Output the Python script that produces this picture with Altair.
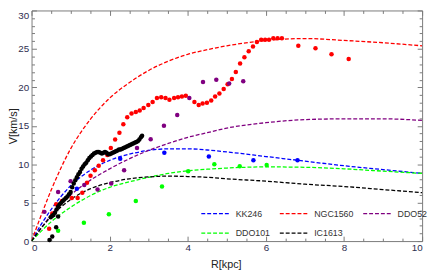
import altair as alt
import pandas as pd

series_names = ["KK246", "NGC1560", "DDO52", "DDO101", "IC1613"]
series_colors = ["#0000ff", "#ff0000", "#800080", "#00ff00", "#000000"]

# fitted rotation curves (dashed), read at these radii
curve_r = [0, 0.25, 0.5, 1, 1.5, 2, 2.5, 3, 3.5, 4, 4.5, 5, 6, 7, 8, 9, 10]
curve_kk246 = [0, 2.2, 4.1, 7.2, 9.2, 10.5, 11.3, 11.8, 12.0, 12.0, 11.85, 11.6, 11.0, 10.4, 9.8, 9.3, 8.8]
curve_ngc1560 = [0, 3.4, 6.6, 12.0, 15.8, 18.6, 20.6, 22.2, 23.4, 24.3, 24.9, 25.4, 26.1, 26.35, 26.1, 25.8, 25.4]
curve_ddo52 = [0, 1.7, 3.4, 6.0, 7.9, 9.4, 10.7, 11.8, 12.7, 13.5, 14.1, 14.7, 15.4, 15.8, 15.9, 15.9, 15.7]
curve_ddo101 = [0, 1.3, 2.5, 4.4, 5.9, 7.0, 7.7, 8.3, 8.8, 9.15, 9.35, 9.5, 9.65, 9.6, 9.4, 9.1, 8.8]
curve_ic1613 = [0, 1.7, 3.2, 5.4, 6.8, 7.6, 8.1, 8.35, 8.45, 8.4, 8.3, 8.1, 7.8, 7.4, 7.1, 6.7, 6.3]

# observed points
kk246_r = [1.16, 2.27, 3.4, 4.54, 5.68, 6.81]
kk246_v = [6.8, 10.7, 11.5, 11.0, 10.5, 10.5]

ngc1560_r = [0.45, 0.53, 0.63, 0.78, 1.03, 1.18, 1.3, 1.42, 1.51, 1.62, 1.72, 1.83, 1.94, 2.03,
             2.14, 2.25, 2.35, 2.45, 2.56, 2.67, 2.77, 2.87, 2.99, 3.1, 3.21, 3.32, 3.43, 3.53,
             3.65, 3.75, 3.85, 3.95, 4.17, 4.28, 4.38, 4.49, 4.6, 4.7, 4.81, 4.92, 5.02, 5.13,
             5.23, 5.34, 5.45, 5.56, 5.67, 5.77, 5.88, 5.98, 6.08, 6.19, 6.3, 6.41, 6.83, 7.27,
             7.68, 8.12]
ngc1560_v = [1.6, 3.6, 4.8, 5.2, 5.6, 5.6, 6.3, 7.6, 8.5, 9.2, 9.8, 10.5, 11.2, 12.1,
             13.2, 14.1, 15.2, 16.1, 16.6, 16.8, 17.0, 17.3, 17.7, 18.1, 18.6, 18.7, 18.6, 18.4,
             18.6, 18.7, 18.8, 18.9, 18.1, 17.7, 17.9, 18.0, 18.3, 18.8, 19.2, 19.8, 20.4, 21.1,
             22.0, 23.1, 23.9, 24.7, 25.3, 25.9, 26.2, 26.2, 26.2, 26.4, 26.4, 26.4, 25.4, 25.1,
             24.3, 23.7]

ddo52_r = [0.33, 0.68, 1.0, 1.35, 1.69, 2.04, 2.37, 2.7, 3.05, 3.39, 3.73, 4.04, 4.39, 4.73, 5.06, 5.42]
ddo52_v = [3.8, 6.4, 7.8, 7.3, 6.7, 7.5, 9.2, 12.1, 13.25, 15.0, 16.4, 18.6, 20.7, 21.0, 20.5, 20.8]

ddo101_r = [0.68, 1.34, 1.98, 2.67, 3.34, 4.01, 4.68, 5.33, 6.02]
ddo101_v = [1.35, 2.4, 3.5, 5.2, 7.1, 9.1, 10.0, 9.75, 9.9]

ic1613_r = [0.46, 0.53, 0.63, 0.68, 0.49, 0.53,
            0.56, 0.6, 0.64, 0.68, 0.72, 0.76, 0.8, 0.84, 0.88, 0.92, 0.96, 1.0, 1.04, 1.08,
            1.12, 1.16, 1.2, 1.24, 1.28, 1.32, 1.36, 1.4, 1.44, 1.48, 1.52, 1.56, 1.6, 1.64,
            1.68, 1.72, 1.76, 1.8, 1.84, 1.88, 1.92, 1.96, 2.0, 2.04, 2.08, 2.12, 2.16, 2.2,
            2.24, 2.28, 2.32, 2.36, 2.4, 2.44, 2.48, 2.52, 2.56, 2.6, 2.64, 2.68, 2.72, 2.76,
            2.8, 2.83]
ic1613_v = [0.15, 0.6, 1.8, 3.2, 3.1, 3.3,
            3.4, 3.7, 4.1, 4.5, 4.8, 5.0, 5.2, 5.4, 5.6, 5.8, 6.1, 6.4, 7.0, 7.5,
            7.9, 8.3, 8.7, 9.0, 9.4, 9.7, 10.0, 10.2, 10.5, 10.8, 11.0, 11.2, 11.4, 11.5,
            11.6, 11.6, 11.5, 11.4, 11.5, 11.6, 11.5, 11.3, 11.3, 11.4, 11.5, 11.6, 11.7, 11.8,
            11.9, 11.9, 12.0, 12.1, 12.2, 12.3, 12.4, 12.5, 12.6, 12.7, 12.8, 12.9, 13.0, 13.2,
            13.5, 13.7]

x_major = [0, 2, 4, 6, 8, 10]
x_minor = [0.5, 1, 1.5, 2.5, 3, 3.5, 4.5, 5, 5.5, 6.5, 7, 7.5, 8.5, 9, 9.5]
y_major = [0, 5, 10, 15, 20, 25, 30]
y_minor = [1, 2, 3, 4, 6, 7, 8, 9, 11, 12, 13, 14, 16, 17, 18, 19, 21, 22, 23, 24, 26, 27, 28, 29]

curve_values = [curve_kk246, curve_ngc1560, curve_ddo52, curve_ddo101, curve_ic1613]
point_r = [kk246_r, ngc1560_r, ddo52_r, ddo101_r, ic1613_r]
point_v = [kk246_v, ngc1560_v, ddo52_v, ddo101_v, ic1613_v]

curves = pd.DataFrame([
    {"series": n, "R": r, "V": v, "i": i}
    for n, vals in zip(series_names, curve_values)
    for i, (r, v) in enumerate(zip(curve_r, vals))
])
points = pd.DataFrame([
    {"series": n, "R": r, "V": v}
    for n, rs, vs in zip(series_names, point_r, point_v)
    for r, v in zip(rs, vs)
])

W, H = 398, 235
FRAME = "#7a7a7a"
LABEL = "#2e2e50"
FONT = "Liberation Sans"

xs = alt.Scale(domain=[0, 10], nice=False, zero=False)
ys = alt.Scale(domain=[0, 30], nice=False, zero=False)
cs = alt.Scale(domain=series_names, range=series_colors)


def tick_axis(orient, values, size, labels=False, title=None, **kw):
    return alt.Axis(orient=orient, values=values, offset=-size, tickSize=size,
                    domain=False, grid=False, labels=labels, tickColor=FRAME,
                    tickWidth=1, title=title, **kw)


x_main = tick_axis("bottom", x_major, 5, labels=True, title="R[kpc]", format="d",
                   labelPadding=2, labelFontSize=10, labelColor=LABEL, labelFont=FONT,
                   titleFont=FONT, titleFontSize=11, titleFontWeight="normal",
                   titleColor="#222222", titleX=198, titleY=29, titleBaseline="middle")
y_main = tick_axis("left", y_major, 5, labels=True, title="V[km/s]", format="d",
                   labelPadding=3, labelFontSize=10, labelColor=LABEL, labelFont=FONT,
                   labelBaseline=alt.ExprRef(expr="datum.value == 30 ? 'top' : 'middle'"),
                   titleFont=FONT, titleFontSize=11, titleFontWeight="normal",
                   titleColor="#222222", titleX=-23, titleY=H / 2,
                   titleBaseline="middle", titleAngle=270, titleAlign="center")

line_layer = alt.Chart(curves).mark_line(
    strokeDash=[4, 2], strokeWidth=1.3, interpolate="monotone", clip=True
).encode(
    x=alt.X("R:Q", scale=xs, axis=x_main),
    y=alt.Y("V:Q", scale=ys, axis=y_main),
    color=alt.Color("series:N", scale=cs, legend=alt.Legend(
        title=None, orient="none", legendX=172, legendY=192, direction="horizontal",
        columns=3, symbolType="stroke", symbolSize=784, symbolStrokeWidth=1.3,
        symbolDash=[4, 2], labelFontSize=9, labelFont=FONT, labelColor="#333333",
        labelOffset=6, columnPadding=6, rowPadding=-12, padding=0)),
    order="i:Q",
)

point_layer = alt.Chart(points).mark_circle(size=21, opacity=1).encode(
    x=alt.X("R:Q", scale=xs, axis=tick_axis("bottom", x_minor, 3)),
    y=alt.Y("V:Q", scale=ys, axis=tick_axis("left", y_minor, 3)),
    color=alt.Color("series:N", scale=cs, legend=None),
)

top_major = alt.Chart(points).mark_point(opacity=0).encode(
    x=alt.X("R:Q", scale=xs, axis=tick_axis("top", x_major, 5)),
    y=alt.Y("V:Q", scale=ys, axis=tick_axis("right", y_major, 5)),
)
top_minor = alt.Chart(points).mark_point(opacity=0).encode(
    x=alt.X("R:Q", scale=xs, axis=tick_axis("top", x_minor, 3)),
    y=alt.Y("V:Q", scale=ys, axis=tick_axis("right", y_minor, 3)),
)

chart = alt.layer(line_layer, point_layer, top_major, top_minor).resolve_axis(
    x="independent", y="independent"
).properties(
    width=W, height=H,
    autosize=alt.AutoSizeParams(type="none"),
    padding={"left": 24, "top": 0, "right": 6, "bottom": 30},
).configure_view(stroke=FRAME, strokeWidth=1)

chart.save("out.html", embed_options={"renderer": "svg", "actions": False})
